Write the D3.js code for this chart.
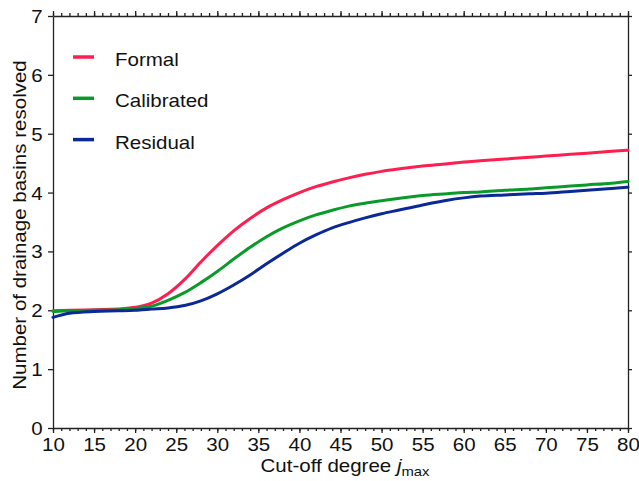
<!DOCTYPE html>
<html>
<head>
<meta charset="utf-8">
<script src="https://cdn.jsdelivr.net/npm/d3@7"></script>
<style>
  body { margin: 0; background: #fff; }
  svg { display: block; }
  text { font-family: "Liberation Sans", Arial, sans-serif; fill: #111; }
</style>
</head>
<body>
<div id="app"></div>
<script>
const width = 639,
    height = 481;
const margin = {top: 16, right: 11, bottom: 53, left: 53};

// cut-off degree j_max
const degrees = [10, 12, 15, 18, 20, 22, 24, 26, 28, 30, 32, 34, 36, 38, 40, 42, 44, 46, 48, 50,
    52, 55, 58, 60, 62, 65, 68, 70, 73, 75, 78, 80];

const formal = [1.99, 2.0, 2.01, 2.02, 2.05, 2.12, 2.28, 2.52, 2.82, 3.1, 3.35, 3.56, 3.74, 3.88, 4.0, 4.1,
    4.18, 4.25, 4.31, 4.36, 4.4, 4.45, 4.49, 4.52, 4.54, 4.57, 4.6, 4.62, 4.65, 4.67, 4.7, 4.72];

const calibrated = [1.98, 1.99, 2.0, 2.01, 2.03, 2.07, 2.17, 2.3, 2.47, 2.66, 2.87, 3.07, 3.25, 3.4, 3.52, 3.62,
    3.7, 3.77, 3.82, 3.86, 3.9, 3.95, 3.98, 4.0, 4.01, 4.04, 4.06, 4.08, 4.11, 4.13, 4.16, 4.19];

const residual = [1.88, 1.95, 1.98, 1.99, 2.0, 2.02, 2.04, 2.08, 2.16, 2.28, 2.43, 2.6, 2.79, 2.97, 3.14, 3.28,
    3.4, 3.49, 3.57, 3.64, 3.7, 3.79, 3.87, 3.91, 3.94, 3.96, 3.98, 3.99, 4.02, 4.04, 4.07, 4.09];

const seriesNames = ["Formal", "Calibrated", "Residual"];
const seriesValues = [formal, calibrated, residual];
const colors = ["#ff1e50", "#0a9a2a", "#0a2896"];

const xTicks = d3.range(10, 81, 5);
const yTicks = d3.range(0, 8, 1);

const x = d3.scaleLinear().domain([10, 80]).range([margin.left, width - margin.right]);
const y = d3.scaleLinear().domain([0, 7]).range([height - margin.bottom, margin.top]);

const svg = d3.select("#app")
    .append("svg")
    .attr("width", width)
    .attr("height", height);

const fontSize = 18;
const stretch = 1.14; // the original lettering is a bit wider than Liberation Sans

// bottom axis: minor ticks, then major ticks + labels
svg.append("g")
    .attr("transform", `translate(0, ${y(0)})`)
    .call(d3.axisBottom(x).tickValues(d3.range(10, 81, 1)).tickSize(3).tickFormat(""))
    .call(g => g.select(".domain").remove());
svg.append("g")
    .attr("transform", `translate(0, ${y(0)})`)
    .call(d3.axisBottom(x).tickValues(xTicks).tickSize(5).tickSizeOuter(0).tickPadding(5))
    .call(g => g.selectAll("text")
        .attr("font-size", fontSize).attr("font-family", null)
        .attr("transform", `scale(${stretch},1)`));

// top axis
svg.append("g")
    .attr("transform", `translate(0, ${y(7)})`)
    .call(d3.axisTop(x).tickValues(d3.range(10, 81, 1)).tickSize(3).tickFormat(""))
    .call(g => g.select(".domain").remove());
svg.append("g")
    .attr("transform", `translate(0, ${y(7)})`)
    .call(d3.axisTop(x).tickValues(xTicks).tickSize(5).tickSizeOuter(0).tickFormat(""));

// left axis
svg.append("g")
    .attr("transform", `translate(${x(10)}, 0)`)
    .call(d3.axisLeft(y).tickValues(yTicks).tickSize(5).tickSizeOuter(0).tickFormat(d3.format("d")))
    .call(g => g.selectAll("text")
        .attr("font-size", fontSize).attr("font-family", null)
        .attr("x", -9)
        .attr("dy", "0.36em")
        .attr("transform", `scale(${stretch},1)`));

// right axis
svg.append("g")
    .attr("transform", `translate(${x(80)}, 0)`)
    .call(d3.axisRight(y).tickValues(yTicks).tickSize(4).tickSizeOuter(0).tickFormat(""));

svg.selectAll(".domain, .tick line").attr("stroke", "#222").attr("stroke-width", 1.3);

// curves
const line = d3.line()
    .x(d => x(d[0]))
    .y(d => y(d[1]))
    .curve(d3.curveMonotoneX);

seriesValues.forEach((vals, i) => {
    svg.append("path")
        .datum(degrees.map((d, k) => [d, vals[k]]))
        .attr("fill", "none")
        .attr("stroke", colors[i])
        .attr("stroke-width", 3)
        .attr("stroke-linecap", "round")
        .attr("d", line);
});

// legend
const legend = svg.append("g").attr("transform", "translate(73, 57)");
seriesNames.forEach((name, i) => {
    const g = legend.append("g").attr("transform", `translate(0, ${i * 41.3})`);
    g.append("line")
        .attr("x1", 0).attr("x2", 21)
        .attr("stroke", colors[i])
        .attr("stroke-width", 3.5);
    g.append("text")
        .attr("transform", `translate(42, 9) scale(${stretch},1)`)
        .attr("font-size", fontSize)
        .text(name);
});

// axis titles
const xLabel = svg.append("text")
    .attr("transform", `translate(345, 471.5) scale(${stretch},1)`)
    .attr("text-anchor", "middle")
    .attr("font-size", fontSize);
xLabel.append("tspan").text("Cut-off degree ");
xLabel.append("tspan").attr("font-style", "italic").text("j");
xLabel.append("tspan").attr("font-size", 13).attr("dy", 4).text("max");

svg.append("text")
    .attr("transform", `translate(26, ${(y(0) + y(7)) / 2 + 3}) rotate(-90) scale(${stretch},1)`)
    .attr("text-anchor", "middle")
    .attr("font-size", fontSize)
    .text("Number of drainage basins resolved");
</script>
</body>
</html>
